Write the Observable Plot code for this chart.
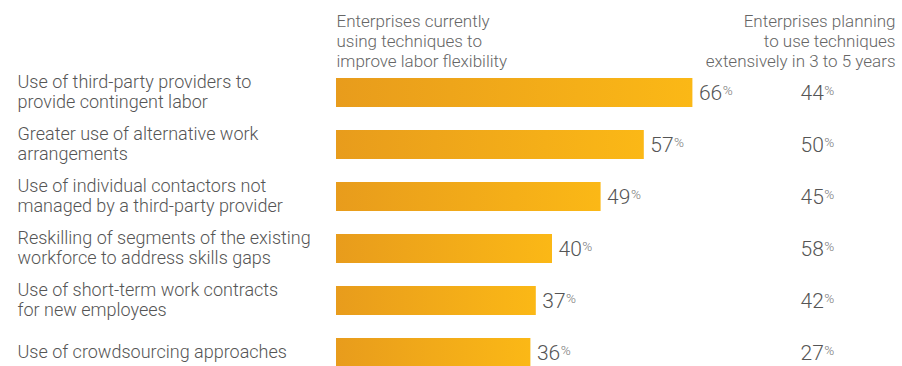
<!DOCTYPE html>
<html>
<head>
<meta charset="utf-8">
<script src="https://cdn.jsdelivr.net/npm/d3@7"></script>
<script src="https://cdn.jsdelivr.net/npm/@observablehq/plot@0.6"></script>
<style>
  html, body { margin: 0; padding: 0; background: #fff; }
  #chart svg { display: block; }
</style>
</head>
<body>
<div id="chart"></div>
<script>
const categories = [
  "Use of third-party providers to\nprovide contingent labor",
  "Greater use of alternative work\narrangements",
  "Use of individual contactors not\nmanaged by a third-party provider",
  "Reskilling of segments of the existing\nworkforce to address skills gaps",
  "Use of short-term work contracts\nfor new employees",
  "Use of crowdsourcing approaches"
];
const currentValues = [66, 57, 49, 40, 37, 36];
const plannedValues = [44, 50, 45, 58, 42, 27];
const headerCurrent = "Enterprises currently\nusing techniques to\nimprove labor flexibility";
const headerPlanned = "Enterprises planning\nto use techniques\nextensively in 3 to 5 years";

const rows = categories.map((c, i) => ({category: c, current: currentValues[i], planned: plannedValues[i]}));

const FONT = "Roboto, 'Liberation Sans', sans-serif";

const gradientDefs = () => {
  const ns = "http://www.w3.org/2000/svg";
  const defs = document.createElementNS(ns, "defs");
  defs.innerHTML = '<linearGradient id="barGrad" x1="0" x2="1" y1="0" y2="0">' +
    '<stop offset="0" stop-color="#E89C1C"/><stop offset="1" stop-color="#FBB816"/></linearGradient>';
  return defs;
};

const chart = Plot.plot({
  width: 902,
  height: 366,
  marginLeft: 336,
  marginRight: 26,
  marginTop: 52,
  marginBottom: 0,
  style: {fontFamily: FONT, background: "#fff", overflow: "hidden"},
  x: {domain: [0, 100], axis: null},
  y: {type: "band", domain: categories, range: [52, 393], paddingInner: 0.434, paddingOuter: 0.434, axis: null},
  marks: [
    gradientDefs,
    Plot.barX(rows, {y: "category", x: "current", fill: "url(#barGrad)"}),
    Plot.text(rows, {
      y: "category", text: "category", frameAnchor: "left", dx: -319, dy: -1,
      textAnchor: "start", lineAnchor: "middle", lineHeight: 1.11,
      fontSize: 18, fontWeight: 300, fill: "#555", letterSpacing: "0.3px"
    }),
    Plot.text(rows, {
      y: "category", x: "current", text: d => d.current + "%", dx: 6,
      textAnchor: "start", fontSize: 21, fontWeight: 300, fill: "#555"
    }),
    Plot.text(rows, {
      y: "category", text: d => d.planned + "%", frameAnchor: "right", dx: -76,
      textAnchor: "start", fontSize: 21, fontWeight: 300, fill: "#555"
    }),
    Plot.text([headerCurrent], {
      text: d => d, frameAnchor: "top-left", dy: -40, textAnchor: "start",
      lineAnchor: "top", lineHeight: 1.18, fontSize: 17, fontWeight: 300, fill: "#666", letterSpacing: "0.35px"
    }),
    Plot.text([headerPlanned], {
      text: d => d, frameAnchor: "top-right", dx: 19, dy: -40, textAnchor: "end",
      lineAnchor: "top", lineHeight: 1.18, fontSize: 17, fontWeight: 300, fill: "#666", letterSpacing: "0.35px"
    })
  ]
});

d3.select(chart).selectAll("text").each(function() {
  const t = this.textContent;
  if (!/^\d+%$/.test(t)) return;
  this.textContent = t.slice(0, -1);
  const ns = "http://www.w3.org/2000/svg";
  const ts = document.createElementNS(ns, "tspan");
  ts.setAttribute("font-size", "13.5");
  ts.setAttribute("dy", "-5");
  ts.setAttribute("dx", "0.5");
  ts.setAttribute("fill", "#777");
  ts.textContent = "%";
  this.appendChild(ts);
});

document.getElementById("chart").appendChild(chart);
</script>
</body>
</html>
